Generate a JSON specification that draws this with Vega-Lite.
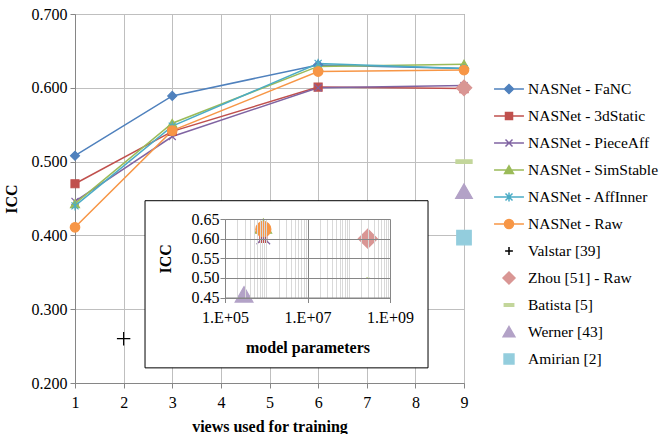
{
  "$schema": "https://vega.github.io/schema/vega-lite/v6.json",
  "background": "white",
  "autosize": {"type": "none"},
  "padding": {"left": 75, "top": 14, "right": 197, "bottom": 51},
  "width": 389,
  "height": 369,
  "datasets": {
    "main": [
      {"series": "NASNet - FaNC", "views": 1, "icc": 0.508},
      {"series": "NASNet - FaNC", "views": 3, "icc": 0.589},
      {"series": "NASNet - FaNC", "views": 6, "icc": 0.631},
      {"series": "NASNet - FaNC", "views": 9, "icc": 0.626},
      {"series": "NASNet - 3dStatic", "views": 1, "icc": 0.470},
      {"series": "NASNet - 3dStatic", "views": 3, "icc": 0.541},
      {"series": "NASNet - 3dStatic", "views": 6, "icc": 0.601},
      {"series": "NASNet - 3dStatic", "views": 9, "icc": 0.599},
      {"series": "NASNet - PieceAff", "views": 1, "icc": 0.446},
      {"series": "NASNet - PieceAff", "views": 3, "icc": 0.534},
      {"series": "NASNet - PieceAff", "views": 6, "icc": 0.600},
      {"series": "NASNet - PieceAff", "views": 9, "icc": 0.603},
      {"series": "NASNet - SimStable", "views": 1, "icc": 0.443},
      {"series": "NASNet - SimStable", "views": 3, "icc": 0.552},
      {"series": "NASNet - SimStable", "views": 6, "icc": 0.629},
      {"series": "NASNet - SimStable", "views": 9, "icc": 0.632},
      {"series": "NASNet - AffInner", "views": 1, "icc": 0.440},
      {"series": "NASNet - AffInner", "views": 3, "icc": 0.548},
      {"series": "NASNet - AffInner", "views": 6, "icc": 0.633},
      {"series": "NASNet - AffInner", "views": 9, "icc": 0.626},
      {"series": "NASNet - Raw", "views": 1, "icc": 0.411},
      {"series": "NASNet - Raw", "views": 3, "icc": 0.542},
      {"series": "NASNet - Raw", "views": 6, "icc": 0.622},
      {"series": "NASNet - Raw", "views": 9, "icc": 0.624},
      {"series": "Valstar [39]", "views": 2, "icc": 0.260},
      {"series": "Zhou [51] - Raw", "views": 9, "icc": 0.600},
      {"series": "Batista [5]", "views": 9, "icc": 0.500},
      {"series": "Werner [43]", "views": 9, "icc": 0.460},
      {"series": "Amirian [2]", "views": 9, "icc": 0.397}
    ],
    "inset": [
      {"series": "NASNet - FaNC", "params": 850000, "icc": 0.626},
      {"series": "NASNet - 3dStatic", "params": 850000, "icc": 0.599},
      {"series": "NASNet - PieceAff", "params": 850000, "icc": 0.603},
      {"series": "NASNet - SimStable", "params": 850000, "icc": 0.632},
      {"series": "NASNet - AffInner", "params": 850000, "icc": 0.626},
      {"series": "NASNet - Raw", "params": 850000, "icc": 0.624},
      {"series": "Zhou [51] - Raw", "params": 290000000, "icc": 0.600},
      {"series": "Batista [5]", "params": 290000000, "icc": 0.500},
      {"series": "Werner [43]", "params": 290000, "icc": 0.458}
    ]
  },
  "resolve": {"scale": {"x": "independent", "y": "independent"}, "axis": {"x": "independent", "y": "independent"}},
  "layer": [
    {
      "layer": [
        {
          "data": {"values": [{}]},
          "mark": {"type": "rect", "fill": "white", "stroke": "black", "strokeWidth": 1},
          "encoding": {
            "x": {"datum": 2.44, "type": "quantitative", "title": "views used for training"},
            "x2": {"datum": 8.26},
            "y": {"datum": 0.447, "type": "quantitative", "title": "ICC"},
            "y2": {"datum": 0.2205}
          }
        },
        {
          "data": {"name": "main"},
          "transform": [{"filter": "indexof(datum.series, 'NASNet') == 0"}],
          "mark": {"type": "line", "strokeWidth": 1.5},
          "encoding": {
            "x": {"field": "views", "type": "quantitative", "title": "views used for training"},
            "y": {"field": "icc", "type": "quantitative", "title": "ICC"},
            "color": {"field": "series", "type": "nominal"}
          }
        },
        {
          "data": {"name": "main"},
          "mark": {"type": "point", "filled": true, "opacity": 1, "strokeWidth": 1.2},
          "encoding": {
            "x": {"field": "views", "type": "quantitative", "title": "views used for training",
                  "scale": {"domain": [1, 9], "nice": false, "zero": false},
                  "axis": {"orient": "bottom", "values": [1, 2, 3, 4, 5, 6, 7, 8, 9], "format": "d", "grid": true, "labelFlush": false, "titlePadding": 8, "labelPadding": 6}},
            "y": {"field": "icc", "type": "quantitative", "title": "ICC",
                  "scale": {"domain": [0.2, 0.7], "nice": false, "zero": false},
                  "axis": {"orient": "left", "values": [0.2, 0.25, 0.3, 0.35, 0.4, 0.45, 0.5, 0.55, 0.6, 0.65, 0.7],
                           "labelExpr": "abs(datum.value*10 - round(datum.value*10)) < 0.001 ? format(datum.value, '.3f') : ''",
                           "grid": true, "labelFlush": false, "titlePadding": 12}},
            "color": {"field": "series", "type": "nominal",
              "scale": {
                "domain": ["NASNet - FaNC", "NASNet - 3dStatic", "NASNet - PieceAff", "NASNet - SimStable", "NASNet - AffInner", "NASNet - Raw", "Valstar [39]", "Zhou [51] - Raw", "Batista [5]", "Werner [43]", "Amirian [2]"],
                "range": ["#4F81BD", "#C0504D", "#8064A2", "#9BBB59", "#4BACC6", "#F79646", "#000000", "#D99694", "#C3D69B", "#B3A2C7", "#93CDDD"]
              },
              "legend": {
                "title": null,
                "orient": "none",
                "legendX": 420,
                "legendY": 61,
                "symbolSize": 676,
                "symbolStrokeWidth": 1.5,
                "rowPadding": 4,
                "labelOffset": 5,
                "labelLimit": 0,
                "labelFontSize": 15.5,
                "encoding": {
                  "symbols": {
                    "shape": {"value": {"expr": "['M-1.15,0H1.15M0,-0.35L0.35,0L0,0.35L-0.35,0Z','M-1.15,0H1.15M-0.27,-0.27H0.27V0.27H-0.27Z','M-1.15,0H1.15M-0.27,-0.27L0.27,0.27M-0.27,0.27L0.27,-0.27','M-1.15,0H1.15M0,-0.32L0.34,0.26H-0.34Z','M-1.15,0H1.15M-0.27,-0.27L0.27,0.27M-0.27,0.27L0.27,-0.27M0,-0.34V0.34','M-1.15,0H1.15M-0.35,0A0.35,0.35 0 1,0 0.35,0A0.35,0.35 0 1,0 -0.35,0Z','M-0.3,0H0.3M0,-0.3V0.3','M0,-0.46L0.46,0L0,0.46L-0.46,0Z','M-0.36,-0.1H0.36V0.1H-0.36Z','M0,-0.42L0.45,0.36H-0.45Z','M-0.38,-0.38H0.38V0.38H-0.38Z'][indexof(['NASNet - FaNC','NASNet - 3dStatic','NASNet - PieceAff','NASNet - SimStable','NASNet - AffInner','NASNet - Raw','Valstar [39]','Zhou [51] - Raw','Batista [5]','Werner [43]','Amirian [2]'], datum.value)]"}},
                    "stroke": {"value": {"expr": "scale('color', datum.value)"}},
                    "fill": {"value": {"expr": "scale('color', datum.value)"}},
                    "strokeWidth": {"value": 1.5},
                    "size": {"value": 676},
                    "opacity": {"value": 1}
                  }
                }
              }
            },
            "stroke": {"field": "series", "type": "nominal", "legend": null,
              "scale": {
                "domain": ["Amirian [2]", "Werner [43]", "Batista [5]", "Zhou [51] - Raw", "Valstar [39]", "NASNet - Raw", "NASNet - AffInner", "NASNet - SimStable", "NASNet - PieceAff", "NASNet - 3dStatic", "NASNet - FaNC"],
                "range": ["#93CDDD", "#B3A2C7", "#C3D69B", "#D99694", "#000000", "#F79646", "#4BACC6", "#9BBB59", "#8064A2", "#C0504D", "#4F81BD"]
              }
            },
            "shape": {"field": "series", "type": "nominal", "legend": null,
              "scale": {
                "domain": ["Amirian [2]", "Werner [43]", "Batista [5]", "Zhou [51] - Raw", "Valstar [39]", "NASNet - Raw", "NASNet - AffInner", "NASNet - SimStable", "NASNet - PieceAff", "NASNet - 3dStatic", "NASNet - FaNC"],
                "range": ["square", "triangle-up", "M-1,-0.22H1V0.22H-1Z", "diamond", "M-1,0H1M0,-1V1", "circle", "M-1,-1L1,1M-1,1L1,-1M0,-1.3V1.3", "triangle-up", "M-1,-1L1,1M-1,1L1,-1", "square", "diamond"]
              }
            },
            "size": {"field": "series", "type": "nominal", "legend": null,
              "scale": {
                "type": "ordinal",
                "domain": ["Amirian [2]", "Werner [43]", "Batista [5]", "Zhou [51] - Raw", "Valstar [39]", "NASNet - Raw", "NASNet - AffInner", "NASNet - SimStable", "NASNet - PieceAff", "NASNet - 3dStatic", "NASNet - FaNC"],
                "range": [210, 280, 260, 240, 180, 90, 50, 80, 50, 64, 80]
              }
            }
          }
        }
      ]
    },
    {
      "data": {"name": "inset"},
      "resolve": {"axis": {"x": "independent"}},
      "layer": [
        {
          "transform": [{"filter": "indexof(datum.series, 'NASNet') == 0"}],
          "mark": {"type": "point", "filled": true, "opacity": 1, "strokeWidth": 1.2},
          "encoding": {
            "x": {"field": "params", "type": "quantitative", "title": null,
                  "scale": {"type": "log", "domain": [100000, 1000000000], "range": [150, 315], "nice": false},
                  "axis": {"orient": "top", "zindex": 1, "values": [200000, 300000, 400000, 500000, 600000, 700000, 800000, 900000, 1000000, 2000000, 3000000, 4000000, 5000000, 6000000, 7000000, 8000000, 9000000, 20000000, 30000000, 40000000, 50000000, 60000000, 70000000, 80000000, 90000000, 100000000, 200000000, 300000000, 400000000, 500000000, 600000000, 700000000, 800000000, 900000000],
                           "labels": false, "ticks": false, "domain": false, "grid": true, "gridColor": "#d9d9d9"}},
            "y": {"field": "icc", "type": "quantitative", "title": "ICC",
                  "scale": {"domain": [0.45, 0.65], "range": [283.5, 205], "nice": false, "zero": false},
                  "axis": {"orient": "left", "offset": -150, "zindex": 1, "values": [0.45, 0.5, 0.55, 0.6, 0.65], "format": ".2f", "grid": true, "gridColor": "#868686", "labelFlush": false, "labelPadding": 1, "titlePadding": 18}},
            "color": {"field": "series", "type": "nominal"},
            "stroke": {"field": "series", "type": "nominal", "legend": null},
            "shape": {"field": "series", "type": "nominal", "legend": null},
            "size": {"field": "series", "type": "nominal", "legend": null}
          }
        },
        {
          "transform": [{"filter": "datum.series == 'Werner [43]'"}],
          "mark": {"type": "point", "filled": true, "opacity": 1, "strokeWidth": 1.2},
          "encoding": {
            "x": {"field": "params", "type": "quantitative", "title": null,
                  "axis": {"orient": "top", "zindex": 1, "values": [100000, 10000000, 1000000000],
                           "labels": false, "ticks": false, "domain": false, "grid": true, "gridColor": "#868686"}},
            "y": {"field": "icc", "type": "quantitative", "title": "ICC"},
            "color": {"field": "series", "type": "nominal"},
            "stroke": {"field": "series", "type": "nominal", "legend": null},
            "shape": {"field": "series", "type": "nominal", "legend": null},
            "size": {"field": "series", "type": "nominal", "legend": null}
          }
        },
        {
          "transform": [{"filter": "datum.series == 'Zhou [51] - Raw' || datum.series == 'Batista [5]'"}],
          "mark": {"type": "point", "filled": true, "opacity": 1, "strokeWidth": 1.2},
          "encoding": {
            "x": {"field": "params", "type": "quantitative", "title": "model parameters",
                  "axis": {"orient": "bottom", "offset": -85.5, "zindex": 1, "values": [100000, 10000000, 1000000000],
                           "labelExpr": "'1.E+' + (datum.value < 1000000 ? '05' : datum.value < 100000000 ? '07' : '09')",
                           "grid": false, "labelFlush": false, "labelPadding": 7, "titlePadding": 14}},
            "y": {"field": "icc", "type": "quantitative", "title": "ICC"},
            "color": {"field": "series", "type": "nominal"},
            "stroke": {"field": "series", "type": "nominal", "legend": null},
            "shape": {"field": "series", "type": "nominal", "legend": null},
            "size": {"field": "series", "type": "nominal", "legend": null}
          }
        }
      ]
    }
  ],
  "config": {
    "font": "Liberation Serif",
    "view": {"stroke": "#868686"},
    "axis": {
      "labelFont": "Liberation Serif", "labelFontSize": 16, "labelColor": "black",
      "titleFont": "Liberation Serif", "titleFontSize": 16, "titleFontWeight": "bold", "titleColor": "black",
      "gridColor": "#bfbfbf", "gridWidth": 1, "domainColor": "#868686", "tickColor": "#868686",
      "tickSize": 5, "labelPadding": 3
    },
    "legend": {"labelFont": "Liberation Serif", "labelFontSize": 16, "labelColor": "black"}
  }
}
